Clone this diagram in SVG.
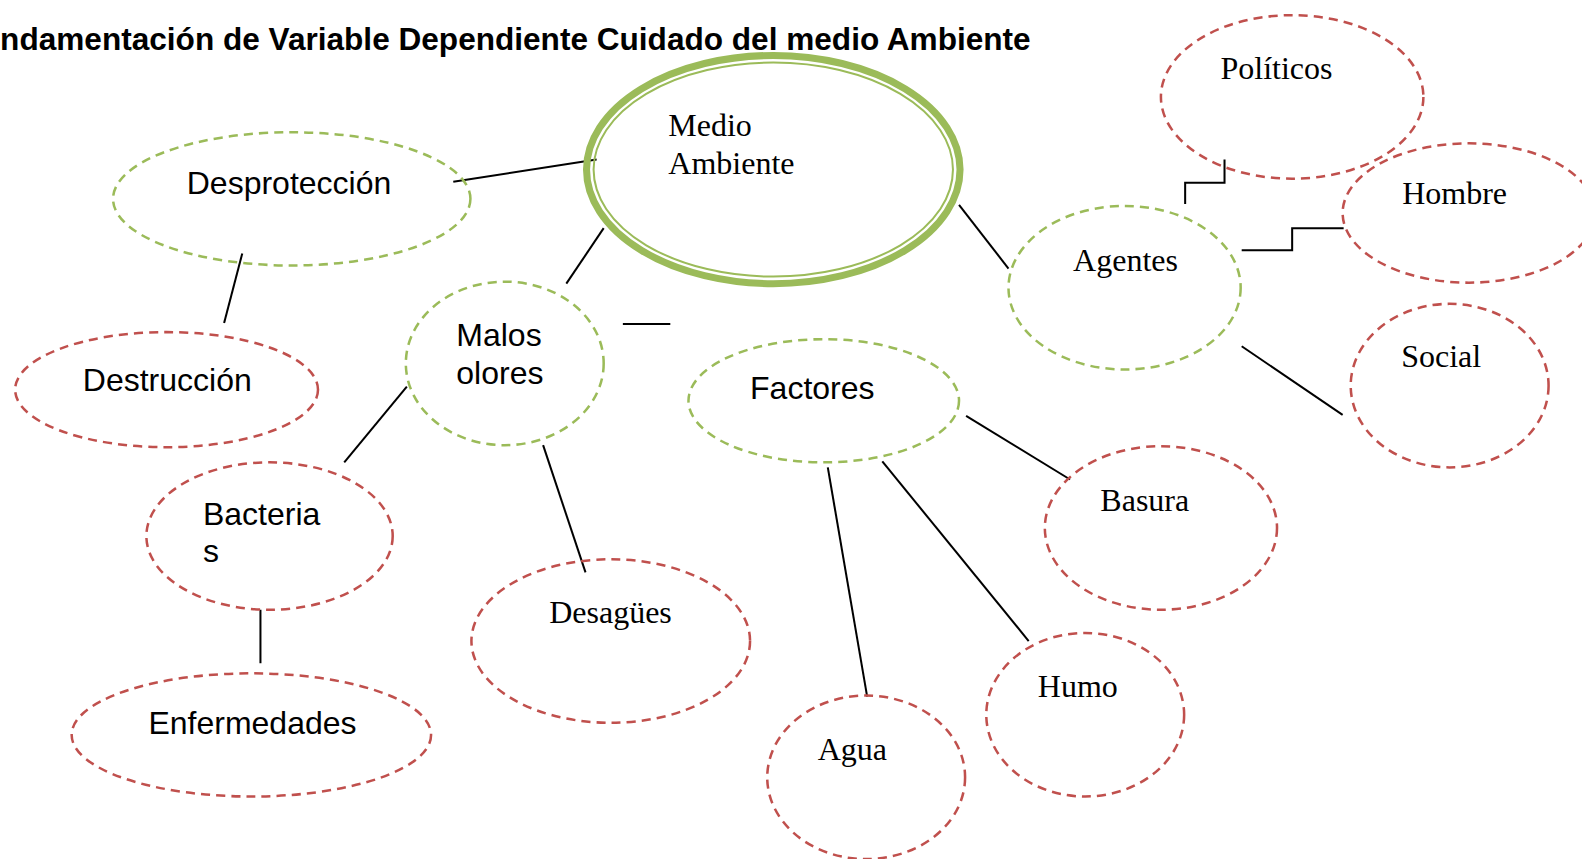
<svg xmlns="http://www.w3.org/2000/svg" width="1582" height="859" viewBox="0 0 1582 859">
<style>
.g{fill:none;stroke:#9BBB59;stroke-width:2.5;stroke-dasharray:9 6}
.r{fill:none;stroke:#C0504D;stroke-width:2.5;stroke-dasharray:9 6}
.a{font-family:"Liberation Sans",Arial,sans-serif;font-size:31.7px;fill:#000}
.t{font-family:"Liberation Serif","Times New Roman",serif;font-size:31.7px;fill:#000}
.c line,.c polyline{stroke:#000;stroke-width:2;fill:none}
</style>
<rect width="1582" height="859" fill="#fff"/>
<g transform="scale(1.0095)">
<text x="1021" y="49.5" text-anchor="end" font-family="Liberation Sans,Arial,sans-serif" font-weight="bold" font-size="31.3">ndamentación de Variable Dependiente Cuidado del medio Ambiente</text>
<g class="c" id="connectors">
<line x1="449" y1="180" x2="591" y2="158"/>
<line x1="240" y1="251" x2="222" y2="320"/>
<line x1="598" y1="226" x2="561" y2="281"/>
<line x1="617" y1="321" x2="664" y2="321"/>
<line x1="403" y1="383" x2="341" y2="458"/>
<line x1="538" y1="441" x2="580" y2="567"/>
<line x1="258" y1="604" x2="258" y2="657"/>
<line x1="820" y1="463" x2="859" y2="690"/>
<line x1="874" y1="457" x2="1019" y2="635"/>
<line x1="957" y1="412" x2="1060" y2="475"/>
<line x1="950" y1="203" x2="999" y2="266"/>
<polyline points="1174,202 1174,181 1213,181 1213,158"/>
<polyline points="1230,248 1280,248 1280,226 1331,226"/>
<line x1="1230" y1="343" x2="1330" y2="411"/>
</g>
<g id="medio">
<ellipse cx="766" cy="168" rx="185" ry="113" fill="none" stroke="#9BBB59" stroke-width="7"/>
<ellipse cx="766" cy="168" rx="178" ry="106" fill="none" stroke="#9BBB59" stroke-width="2"/>
<text class="t" x="662" y="135">Medio</text>
<text class="t" x="662" y="172">Ambiente</text>
</g>
<g id="desproteccion"><ellipse class="g" cx="289" cy="197" rx="177" ry="66"/><text class="a" x="185" y="192">Desprotección</text></g>
<g id="destruccion"><ellipse class="r" cx="165" cy="386" rx="150" ry="57"/><text class="a" x="82" y="387">Destrucción</text></g>
<g id="malos"><ellipse class="g" cx="500" cy="360" rx="98" ry="81"/><text class="a" x="452" y="343">Malos</text><text class="a" x="452" y="380">olores</text></g>
<g id="bacterias"><ellipse class="r" cx="267" cy="531" rx="122" ry="73"/><text class="a" x="201" y="520">Bacteria</text><text class="a" x="201" y="557">s</text></g>
<g id="enfermedades"><ellipse class="r" cx="249" cy="728" rx="178" ry="61"/><text class="a" x="147" y="727">Enfermedades</text></g>
<g id="desagues"><ellipse class="r" cx="605" cy="635" rx="138" ry="81"/><text class="t" x="544" y="617">Desagües</text></g>
<g id="factores"><ellipse class="g" cx="816" cy="397" rx="134" ry="61"/><text class="a" x="743" y="395">Factores</text></g>
<g id="agua"><ellipse class="r" cx="858" cy="770" rx="98" ry="81"/><text class="t" x="810" y="753">Agua</text></g>
<g id="humo"><ellipse class="r" cx="1075" cy="708" rx="98" ry="81"/><text class="t" x="1028" y="690">Humo</text></g>
<g id="basura"><ellipse class="r" cx="1150" cy="523" rx="115" ry="81"/><text class="t" x="1090" y="506">Basura</text></g>
<g id="agentes"><ellipse class="g" cx="1114" cy="285" rx="115" ry="81"/><text class="t" x="1063" y="268">Agentes</text></g>
<g id="politicos"><ellipse class="r" cx="1280" cy="96" rx="130" ry="81"/><text class="t" x="1209" y="78">Políticos</text></g>
<g id="hombre"><ellipse class="r" cx="1455" cy="211" rx="125" ry="69"/><text class="t" x="1389" y="202">Hombre</text></g>
<g id="social"><ellipse class="r" cx="1436" cy="382" rx="98" ry="81"/><text class="t" x="1388" y="364">Social</text></g>
</g>
</svg>
